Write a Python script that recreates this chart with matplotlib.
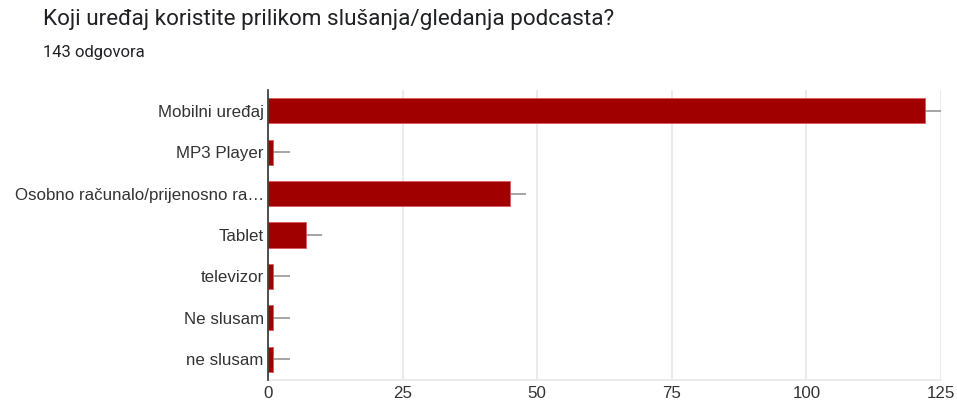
import matplotlib
matplotlib.use("Agg")
import matplotlib.pyplot as plt
import numpy as np

categories = ["Mobilni uređaj", "MP3 Player", "Osobno računalo/prijenosno ra…",
              "Tablet", "televizor", "Ne slusam", "ne slusam"]
values = [122, 1, 45, 7, 1, 1, 1]
errors = [3.3, 3, 3, 3, 3, 3, 3]
xticks = [0, 25, 50, 75, 100, 125]

title = "Koji uređaj koristite prilikom slušanja/gledanja podcasta?"
subtitle = "143 odgovora"

fig = plt.figure(figsize=(9.57, 4.05), dpi=100)
ax = fig.add_axes([268/957, 1-380/405, (941-268)/957, (380-90)/405])

y = np.arange(len(categories))
ax.errorbar(values, y, xerr=[np.zeros(len(errors)), errors], fmt="none",
            ecolor="#9e9e9e", elinewidth=1.3, capsize=0, zorder=2)
ax.barh(y, values, height=0.61, color="#a00000", edgecolor="#d9595e",
        linewidth=0.6, zorder=3)

ax.set_ylim(len(categories) - 0.5, -0.5)
ax.set_xlim(0, 125)
ax.set_yticks(y)
ax.set_yticklabels(categories, fontfamily="Liberation Sans", fontsize=12.2, color="#333333")
ax.set_xticks(xticks)
ax.set_xticklabels([str(t) for t in xticks], fontfamily="Liberation Sans", fontsize=12.2, color="#333333")
ax.tick_params(axis="both", length=0, pad=3)
ax.tick_params(axis="x", pad=4)
ax.grid(axis="x", color="#e8e8e8", linewidth=1.2, zorder=0)
ax.set_axisbelow(True)
for s in ["top", "right"]:
    ax.spines[s].set_visible(False)
ax.spines["bottom"].set_color("#e8e8e8")
ax.spines["bottom"].set_linewidth(1.2)
ax.spines["left"].set_color("#333333")
ax.spines["left"].set_linewidth(1.2)
ax.spines["left"].set_zorder(5)

fig.text(43/957, 1-20/405, title, fontfamily="Roboto", fontsize=16.2,
         color="#202124", va="center", ha="left")
fig.text(43/957, 1-53/405, subtitle, fontfamily="Roboto", fontsize=12,
         color="#202124", va="center", ha="left")

fig.savefig("out.png", dpi=100, facecolor="white")
